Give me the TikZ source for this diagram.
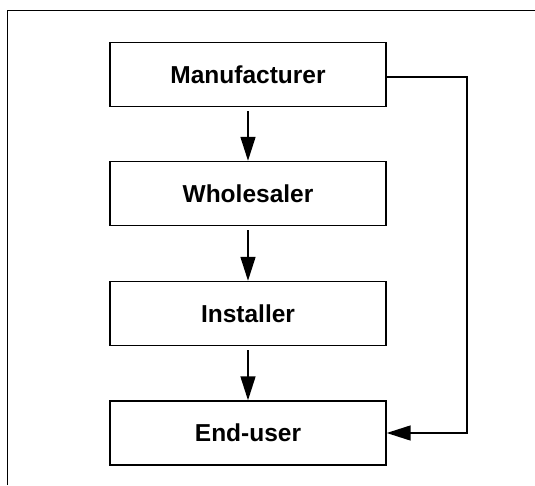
\documentclass[tikz,border=0pt]{standalone}
\usepackage{fontspec}
\setmainfont{Liberation Sans}
\usetikzlibrary{arrows.meta}
\begin{document}
\begin{tikzpicture}[x=1pt,y=1pt,
  stage/.style={draw, line width=1.4pt, minimum width=276pt, minimum height=64pt, inner sep=0pt,
    font=\fontsize{24.5}{28}\selectfont\bfseries},
  flow/.style={line width=1.5pt, -{Triangle[length=24pt,width=15pt]}}]
\useasboundingbox (0,0) rectangle (535,485);
\draw[line width=0.9pt] (7,0) -- (7,475) -- (535,475);
\node[stage] (m) at (248,410.5) {Manufacturer};
\node[stage] (w) at (248,291.5) {Wholesaler};
\node[stage] (i) at (248,171.5) {Installer};
\node[stage] (e) at (248,52) {End-user};
\draw[flow, shorten <=4pt] (m) -- (w);
\draw[flow, shorten <=4pt] (w) -- (i);
\draw[flow, shorten <=4pt] (i) -- (e);
\coordinate (r) at (467,408);
\draw[flow] ([yshift=-2.5pt]m.east) -- (r) |- (e.east);
\end{tikzpicture}
\end{document}
